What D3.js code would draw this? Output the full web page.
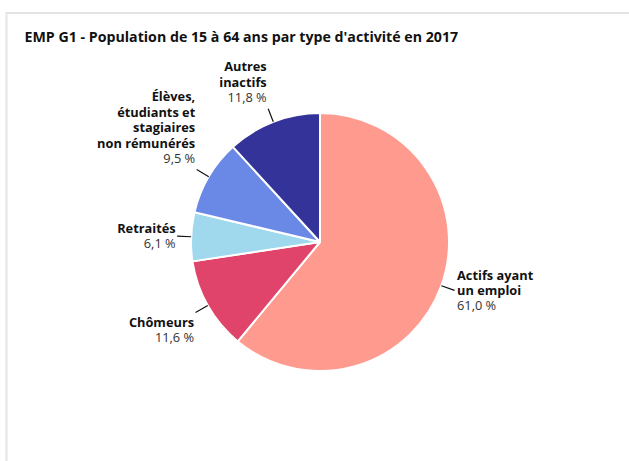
<!DOCTYPE html>
<html><head><meta charset="utf-8">
<script src="https://cdn.jsdelivr.net/npm/d3@7"></script>
<style>
html,body{margin:0;padding:0;background:#fff;}
svg{display:block;font-family:"Open Sans",sans-serif;}
</style></head>
<body>
<svg id="c" width="629" height="461"></svg>
<script>
const categories = [
  ["Actifs ayant", "un emploi"],
  ["Chômeurs"],
  ["Retraités"],
  ["Élèves,", "étudiants et", "stagiaires", "non rémunérés"],
  ["Autres", "inactifs"]
];
const values = [61.0, 11.6, 6.1, 9.5, 11.8];
const colors = ["#FF9A8E", "#E0446A", "#A0D8EE", "#6A88E6", "#333399"];
const title = "EMP G1 - Population de 15 à 64 ans par type d'activité en 2017";

const svg = d3.select("#c");
// frame
svg.append("rect").attr("x", 6.5).attr("y", 13).attr("width", 640).attr("height", 470)
  .attr("fill", "none").attr("stroke", "#e4e4e4").attr("stroke-width", 2);

svg.append("text").attr("x", 24.5).attr("y", 42)
  .attr("font-size", 14.2).attr("font-weight", 700).attr("fill", "#111")
  .text(title);

const cx = 320, cy = 242, r = 129;
const data = values.map((v, i) => ({v, i}));
const pie = d3.pie().value(d => d.v).sort(null);
const arcs = pie(data);
const arc = d3.arc().innerRadius(0).outerRadius(r);
const g = svg.append("g").attr("transform", `translate(${cx},${cy})`);
g.selectAll("path").data(arcs).join("path")
  .attr("d", arc).attr("fill", d => colors[d.data.i])
  .attr("stroke", "#fff").attr("stroke-width", 2).attr("stroke-linejoin", "round");

const lh = 15.4, fs = 12.8;
arcs.forEach(a => {
  const m = (a.startAngle + a.endAngle) / 2;
  const s = Math.sin(m), c = Math.cos(m);
  const x1 = r * s, y1 = -r * c;
  const x2 = (r + 14) * s, y2 = -(r + 14) * c;
  g.append("line").attr("x1", x1).attr("y1", y1).attr("x2", x2).attr("y2", y2)
    .attr("stroke", "#111").attr("stroke-width", 1.2);
  const lines = categories[a.data.i].slice();
  const pct = d3.format(".1f")(values[a.data.i]).replace(".", ",") + " %";
  const n = lines.length + 1;
  const right = s > 0;
  const tx = x2 + (right ? 2.5 : -1.5);
  let firstY;
  if (c > 0.3) firstY = y2 - 11 - (n - 1) * lh;
  else if (c < -0.42) firstY = y2 + 10;
  else firstY = y2 - (n - 1) * lh / 2;
  const t = g.append("text").attr("text-anchor", right ? "start" : "end")
    .attr("font-size", fs);
  lines.forEach((L, k) => {
    t.append("tspan").attr("x", tx).attr("y", firstY + k * lh).attr("dy", "0.35em")
      .attr("font-weight", 700).attr("fill", "#111").text(L);
  });
  t.append("tspan").attr("x", tx).attr("y", firstY + lines.length * lh).attr("dy", "0.35em")
    .attr("font-weight", 400).attr("fill", "#333").text(pct);
});
</script>
</body></html>
